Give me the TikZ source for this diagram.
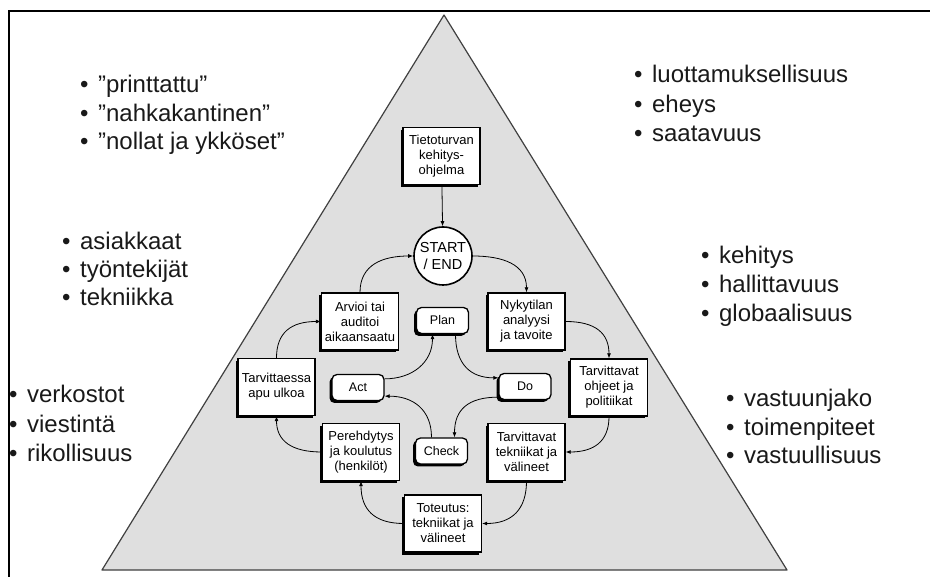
\documentclass[tikz,border=0pt]{standalone}
\usepackage{fontspec}
\setmainfont{Liberation Sans}
\usetikzlibrary{arrows.meta,shadows}
\newcommand\lbul{•\kern 9.5pt}
\begin{document}
\begin{tikzpicture}[x=1pt,y=-1pt,
  lst/.style={anchor=base west, inner sep=0pt, font=\fontsize{24}{29}\selectfont, text=black!90},
  shd/.style={drop shadow={shadow xshift=-2.5pt, shadow yshift=-2.5pt, fill=black, opacity=1}},
  box/.style={draw, line width=1.3pt, fill=white, minimum width=77pt, minimum height=57pt, inner sep=1pt, align=center, font=\fontsize{13}{15}\selectfont, shd},
  rbox/.style={draw, line width=1.3pt, fill=white, rounded corners=5pt, minimum width=52pt, minimum height=26pt, inner sep=1pt, font=\fontsize{12.5}{14}\selectfont, shd},
  arr/.style={-{Latex[length=5pt,width=4pt]}, line width=0.8pt},
]
\useasboundingbox (0,0) rectangle (930,577);
% frame
\draw[line width=1.5pt] (9,577) -- (9,11) -- (930,11);
% triangle
\draw[fill=gray!25, draw=black!75, line width=1.2pt, line join=round] (444,15) -- (102,570) -- (787,570) -- cycle;
% lists
\node[lst] (a1) at (80,93) {\lbul ”printtattu”};
\node[lst] (a2) at (80,122) {\lbul ”nahkakantinen”};
\node[lst] (a3) at (80,150) {\lbul ”nollat ja ykköset”};
\node[lst] (b1) at (634,83) {\lbul luottamuksellisuus};
\node[lst] (b2) at (634,113) {\lbul eheys};
\node[lst] (b3) at (634,142) {\lbul saatavuus};
\node[lst] (c1) at (62,250) {\lbul asiakkaat};
\node[lst] (c2) at (62,278) {\lbul työntekijät};
\node[lst] (c3) at (62,306) {\lbul tekniikka};
\node[lst] (d1) at (701,264) {\lbul kehitys};
\node[lst] (d2) at (701,293) {\lbul hallittavuus};
\node[lst] (d3) at (701,322) {\lbul globaalisuus};
\node[lst] (e1) at (9,403) {\lbul verkostot};
\node[lst] (e2) at (9,433) {\lbul viestintä};
\node[lst] (e3) at (9,461) {\lbul rikollisuus};
\node[lst] (f1) at (726,407) {\lbul vastuunjako};
\node[lst] (f2) at (726,436) {\lbul toimenpiteet};
\node[lst] (f3) at (726,464) {\lbul vastuullisuus};
% boxes
\node[box] (tiet) at (441.5,156) {Tietoturvan\\kehitys-\\ohjelma};
\node[circle, draw, line width=1.6pt, fill=white, minimum size=58pt, inner sep=0pt, align=center, font=\fontsize{14.5}{17}\selectfont] (start) at (443,256) {START\\/ END};
\node[box] (nyk) at (526.5,321.5) {Nykytilan\\analyysi\\ja tavoite};
\node[box] (ohj) at (609,387.5) {Tarvittavat\\ohjeet ja\\politiikat};
\node[box] (tek) at (526.5,452) {Tarvittavat\\tekniikat ja\\välineet};
\node[box] (tot) at (443,523.5) {Toteutus:\\tekniikat ja\\välineet};
\node[box] (per) at (361,452) {Perehdytys\\ja koulutus\\(henkilöt)};
\node[box] (tar) at (276.5,387) {Tarvittaessa\\apu ulkoa};
\node[box] (arv) at (360,321.5) {Arvioi tai\\auditoi\\aikaansaatu};
\node[rbox] (plan) at (442.5,320.5) {Plan};
\node[rbox] (do) at (525,386.5) {Do};
\node[rbox] (check) at (441.5,451) {Check};
\node[rbox] (act) at (358,387.5) {Act};
% connectors
\draw[arr] (tiet) -- (start);
\draw[arr] (start.east) .. controls +(30,0) and +(0,-28) .. (nyk.north);
\draw[arr] (nyk.east) .. controls +(30,0) and +(0,-25) .. (ohj.north);
\draw[arr] (ohj.south) .. controls +(0,25) and +(28,0) .. (tek.east);
\draw[arr] (tek.south) .. controls +(0,28) and +(30,0) .. (tot.east);
\draw[arr] (tot.west) .. controls +(-30,0) and +(0,28) .. (per.south);
\draw[arr] (per.west) .. controls +(-30,0) and +(0,25) .. (tar.south);
\draw[arr] (tar.north) .. controls +(0,-25) and +(-30,0) .. (arv.west);
\draw[arr] (arv.north) .. controls +(0,-28) and +(-30,0) .. (start.west);
\draw[arr] ([xshift=13pt]plan.south) .. controls +(0,30) and +(-28,0) .. ([yshift=-5pt]do.north west);
\draw[arr] ([yshift=3pt]do.south west) .. controls +(-30,0) and +(0,-28) .. ([xshift=13pt]check.north);
\draw[arr] ([xshift=-10pt]check.north) .. controls +(0,-28) and +(28,0) .. ([yshift=5pt]act.south east);
\draw[arr] ([yshift=-5pt]act.north east) .. controls +(28,0) and +(0,28) .. ([xshift=-10pt]plan.south);
\end{tikzpicture}
\end{document}
